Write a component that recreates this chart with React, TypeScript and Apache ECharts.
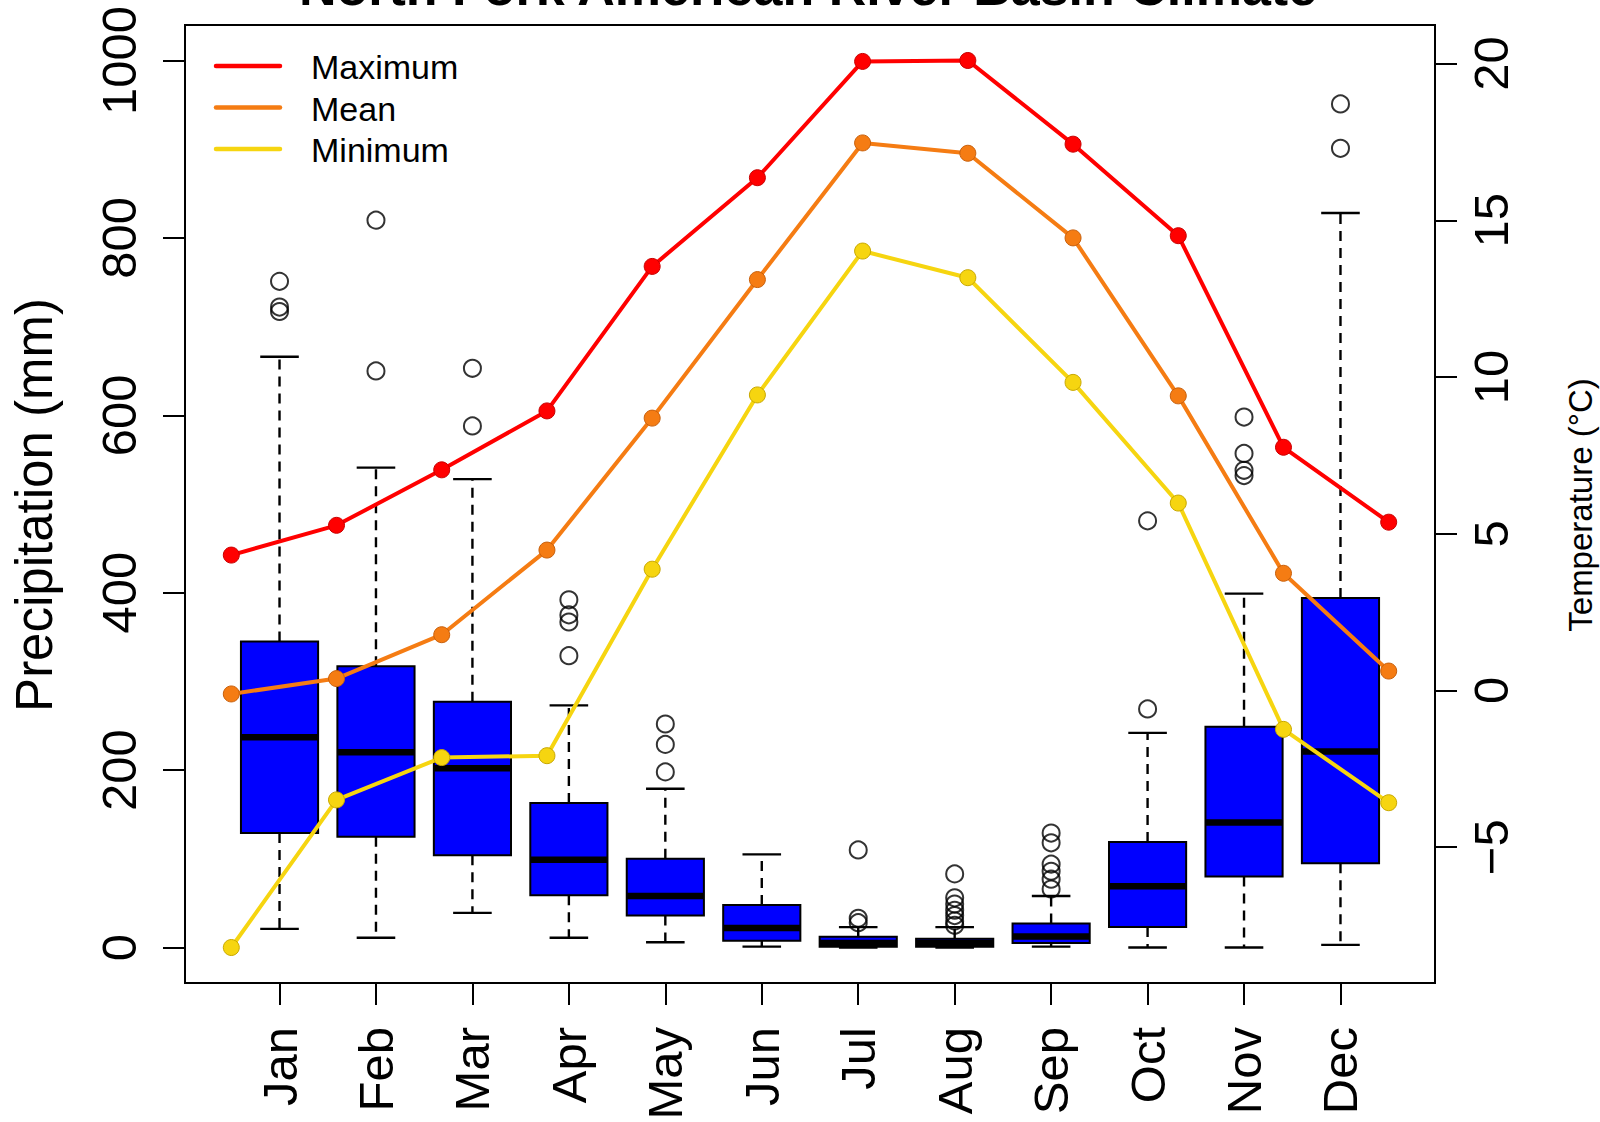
import React, { useEffect, useRef } from "react";
import * as echarts from "echarts";

// ---------- data ----------
const months = ["Jan", "Feb", "Mar", "Apr", "May", "Jun", "Jul", "Aug", "Sep", "Oct", "Nov", "Dec"];

// precipitation boxplot statistics (mm)
const whiskerLow = [21, 11, 39, 11, 6, 1, 0, 0, 1, 0, 0, 3];
const quartile1 = [129, 125, 104, 59, 36, 7.5, 1, 1, 5, 23, 80, 95];
const medians = [237, 220, 202, 99, 58, 22, 5, 5, 12.5, 69, 141, 221];
const quartile3 = [345, 317, 277, 163, 100, 48, 12, 10, 27, 119, 249, 394];
const whiskerHigh = [666, 541, 528, 273, 179, 105, 23, 23, 58, 242, 399, 828];
const outliers = [
  [717, 722, 751],
  [650, 820],
  [588, 653],
  [329, 367, 375, 392],
  [198, 229, 252],
  [],
  [28, 33, 110],
  [25, 30, 36, 42, 49, 56, 83],
  [66, 77, 86, 94, 118, 129],
  [269, 481],
  [532, 538, 557, 598],
  [901, 951],
];

// temperature (°C)
const tempMax = [4.32, 5.27, 7.04, 8.92, 13.53, 16.36, 20.07, 20.1, 17.43, 14.51, 7.76, 5.37];
const tempMean = [-0.11, 0.38, 1.78, 4.48, 8.69, 13.11, 17.47, 17.14, 14.44, 9.4, 3.74, 0.62];
const tempMin = [-8.2, -3.49, -2.14, -2.08, 3.87, 9.43, 14.02, 13.17, 9.83, 5.98, -1.24, -3.58];

const precipTicks = [0, 200, 400, 600, 800, 1000];
const tempTicks = [-5, 0, 5, 10, 15, 20];
const seriesNames = ["Maximum", "Mean", "Minimum"];
const seriesColors = ["#FF0000", "#F57C13", "#F6D510"];
const seriesBorders = ["#C80000", "#C8600C", "#C8A800"];

const FONT = "'Liberation Sans', Arial, Helvetica, sans-serif";

export default function App() {
  const ref = useRef<HTMLDivElement | null>(null);

  useEffect(() => {
    if (!ref.current) return;
    const chart = echarts.init(ref.current, null, { renderer: "svg" });

    // R-style 4% axis extension
    const ext = (lo: number, hi: number) => {
      const p = 0.04 * (hi - lo);
      return [lo - p, hi + p];
    };
    const [pLo, pHi] = ext(precipTicks[0], precipTicks[precipTicks.length - 1]);
    const allT = [...tempMax, ...tempMean, ...tempMin];
    const [tLo, tHi] = ext(Math.min(...allT), Math.max(...allT));
    const n = months.length;
    const [xLo, xHi] = ext(0.5, n + 0.5);
    const boxPos = months.map((_, i) => i + 1);
    const tempPos = months.map((_, i) => 0.5 + (i * n) / (n - 1));

    const boxData = months.map((_, i) => [
      boxPos[i],
      whiskerLow[i],
      quartile1[i],
      medians[i],
      quartile3[i],
      whiskerHigh[i],
    ]);
    const outlierData: number[][] = [];
    outliers.forEach((arr, i) => arr.forEach((v) => outlierData.push([boxPos[i], v])));

    const renderBox = (params: any, api: any) => {
      const x = api.value(0);
      const lo = api.coord([x, api.value(1)]);
      const q1 = api.coord([x, api.value(2)]);
      const med = api.coord([x, api.value(3)]);
      const q3 = api.coord([x, api.value(4)]);
      const hi = api.coord([x, api.value(5)]);
      const cx = lo[0];
      const half = api.coord([x + 0.4, 0])[0] - cx;
      const cap = half / 2;
      const dash = { stroke: "#000", lineWidth: 2.4, lineDash: [10, 7], fill: null };
      const solid = { stroke: "#000", lineWidth: 2.4, fill: null };
      return {
        type: "group",
        children: [
          { type: "line", shape: { x1: cx, y1: q3[1], x2: cx, y2: hi[1] }, style: dash },
          { type: "line", shape: { x1: cx, y1: q1[1], x2: cx, y2: lo[1] }, style: dash },
          { type: "line", shape: { x1: cx - cap, y1: hi[1], x2: cx + cap, y2: hi[1] }, style: solid },
          { type: "line", shape: { x1: cx - cap, y1: lo[1], x2: cx + cap, y2: lo[1] }, style: solid },
          {
            type: "rect",
            shape: { x: cx - half, y: q3[1], width: 2 * half, height: q1[1] - q3[1] },
            style: { fill: "#0000FF", stroke: "#000", lineWidth: 2 },
          },
          {
            type: "line",
            shape: { x1: cx - half, y1: med[1], x2: cx + half, y2: med[1] },
            style: { stroke: "#000", lineWidth: 6.5 },
          },
        ],
      };
    };

    const tempSeries = [tempMax, tempMean, tempMin].map((vals, k) => ({
      name: seriesNames[k],
      type: "line",
      xAxisIndex: 0,
      yAxisIndex: 1,
      z: 5 + k,
      data: vals.map((v, i) => [tempPos[i], v]),
      symbol: "circle",
      symbolSize: 16,
      showSymbol: true,
      lineStyle: { color: seriesColors[k], width: 4 },
      itemStyle: { color: seriesColors[k], borderColor: seriesBorders[k], borderWidth: 1 },
    }));

    const legendY = [67, 108.5, 150];
    const legendGraphics: any[] = [];
    seriesNames.forEach((nm, k) => {
      legendGraphics.push({
        type: "line",
        shape: { x1: 216, y1: legendY[k] - 1, x2: 280, y2: legendY[k] - 1 },
        style: { stroke: seriesColors[k], lineWidth: 4.5, lineCap: "round" },
      });
      legendGraphics.push({
        type: "text",
        x: 311,
        y: legendY[k],
        style: {
          text: nm,
          fontSize: 34,
          fontFamily: FONT,
          fill: "#000",
          align: "left",
          verticalAlign: "middle",
        },
      });
    });

    const option: any = {
      animation: false,
      backgroundColor: "#fff",
      textStyle: { fontFamily: FONT },
      grid: {
        left: 185,
        right: 165,
        top: 25,
        height: 958,
        outerBoundsMode: "none",
        containLabel: false,
        show: true,
        borderColor: "#000",
        borderWidth: 2,
        backgroundColor: "transparent",
      },
      xAxis: {
        type: "value",
        min: xLo,
        max: xHi,
        axisLine: { show: true, onZero: false, lineStyle: { color: "#000", width: 2 } },
        axisTick: { show: true, customValues: boxPos, length: 22, lineStyle: { color: "#000", width: 2 } },
        axisLabel: {
          show: true,
          customValues: boxPos,
          rotate: 90,
          margin: 44,
          fontSize: 49,
          color: "#000",
          fontFamily: FONT,
          formatter: (v: number) => months[Math.round(v) - 1] || "",
        },
        splitLine: { show: false },
      },
      yAxis: [
        {
          type: "value",
          position: "left",
          min: pLo,
          max: pHi,
          axisLine: { show: true, onZero: false, lineStyle: { color: "#000", width: 2 } },
          axisTick: { show: true, customValues: precipTicks, length: 22, lineStyle: { color: "#000", width: 2 } },
          axisLabel: {
            show: true,
            customValues: precipTicks,
            rotate: 90,
            margin: 42,
            fontSize: 49,
            color: "#000",
            fontFamily: FONT,
            formatter: (v: number) => String(v),
          },
          splitLine: { show: false },
        },
        {
          type: "value",
          position: "right",
          min: tLo,
          max: tHi,
          alignTicks: false,
          axisLine: { show: true, onZero: false, lineStyle: { color: "#000", width: 2 } },
          axisTick: { show: true, customValues: tempTicks, length: 22, lineStyle: { color: "#000", width: 2 } },
          axisLabel: {
            show: true,
            customValues: tempTicks,
            rotate: 90,
            margin: 31,
            fontSize: 49,
            color: "#000",
            fontFamily: FONT,
            formatter: (v: number) => (v < 0 ? "\u2212" + Math.abs(v) : String(v)),
          },
          splitLine: { show: false },
        },
      ],
      graphic: [
        {
          type: "text",
          x: 808,
          y: -13.5,
          style: {
            text: "North Fork American River Basin Climate",
            fontSize: 52,
            fontWeight: "bold",
            fontFamily: FONT,
            fill: "#000",
            align: "center",
            verticalAlign: "middle",
          },
        },
        {
          type: "text",
          x: 34,
          y: 505,
          rotation: Math.PI / 2,
          style: {
            text: "Precipitation (mm)",
            fontSize: 51,
            fontFamily: FONT,
            fill: "#000",
            align: "center",
            verticalAlign: "middle",
          },
        },
        {
          type: "text",
          x: 1580,
          y: 505,
          rotation: Math.PI / 2,
          style: {
            text: "Temperature (°C)",
            fontSize: 33,
            fontFamily: FONT,
            fill: "#000",
            align: "center",
            verticalAlign: "middle",
          },
        },
        ...legendGraphics,
      ],
      series: [
        {
          type: "custom",
          name: "Precipitation",
          xAxisIndex: 0,
          yAxisIndex: 0,
          z: 2,
          renderItem: renderBox,
          encode: { x: 0, y: [1, 2, 3, 4, 5] },
          data: boxData,
        },
        {
          type: "scatter",
          name: "Outliers",
          xAxisIndex: 0,
          yAxisIndex: 0,
          z: 3,
          symbol: "circle",
          symbolSize: 17,
          itemStyle: { color: "rgba(0,0,0,0)", borderColor: "#000", borderWidth: 2 },
          data: outlierData,
        },
        ...tempSeries,
      ],
    };

    chart.setOption(option);
    return () => chart.dispose();
  }, []);

  return (
    <div
      ref={ref}
      style={{ position: "absolute", left: 0, top: 0, width: 1600, height: 1122, background: "#fff" }}
    />
  );
}
